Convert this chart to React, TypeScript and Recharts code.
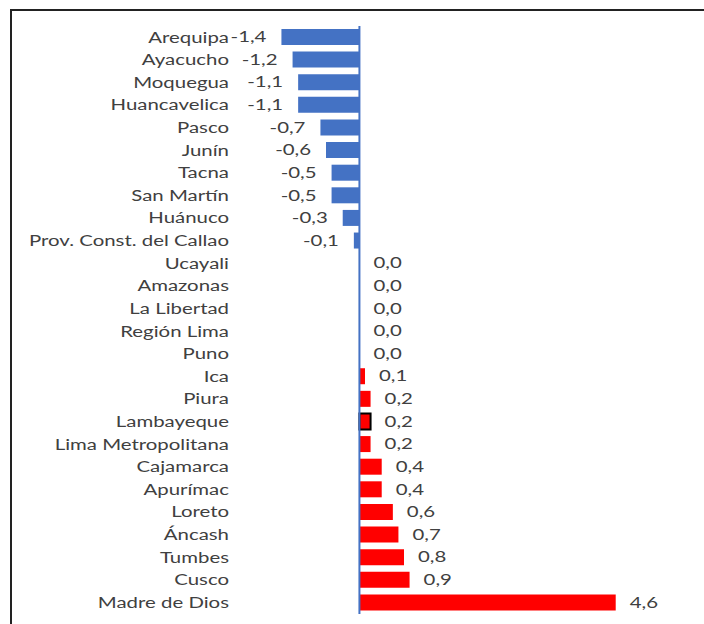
import { BarChart, Bar, XAxis, YAxis, Cell, LabelList, ReferenceLine } from 'recharts'

const regions = [
  'Arequipa', 'Ayacucho', 'Moquegua', 'Huancavelica', 'Pasco', 'Junín', 'Tacna',
  'San Martín', 'Huánuco', 'Prov. Const. del Callao', 'Ucayali', 'Amazonas',
  'La Libertad', 'Región Lima', 'Puno', 'Ica', 'Piura', 'Lambayeque',
  'Lima Metropolitana', 'Cajamarca', 'Apurímac', 'Loreto', 'Áncash', 'Tumbes',
  'Cusco', 'Madre de Dios',
]

const variation = [
  -1.4, -1.2, -1.1, -1.1, -0.7, -0.6, -0.5, -0.5, -0.3, -0.1, 0.0, 0.0, 0.0,
  0.0, 0.0, 0.1, 0.2, 0.2, 0.2, 0.4, 0.4, 0.6, 0.7, 0.8, 0.9, 4.6,
]

const highlighted = ['Lambayeque']

const NEG = '#4472C4'
const POS = '#FF0000'
const TEXT = '#404040'
const FONT = 'Lato, "Open Sans", sans-serif'
const SX = 1.36 // the source text is stretched horizontally

const data = regions.map((name, i) => ({ name, value: variation[i] }))

const StretchText = ({ x, y, anchor, children }: any) => (
  <text
    transform={`translate(${x},${y}) scale(${SX},1)`}
    dy="0.35em"
    textAnchor={anchor}
    fill={TEXT}
    fontSize={15}
    fontFamily={FONT}
  >
    {children}
  </text>
)

const RegionTick = (props: any) => (
  <StretchText x={props.x} y={props.y} anchor="end">
    {props.payload.value}
  </StretchText>
)

// excel-style "outside end" labels, comma decimals
const ValueLabel = (props: any) => {
  const x = Number(props.x)
  const w = Number(props.width)
  const cy = Number(props.y) + Number(props.height) / 2
  const v = Number(props.value)
  const txt = v.toFixed(1).replace('.', ',')
  if (v < 0) {
    const left = Math.min(x, x + w)
    return <StretchText x={left - 15} y={cy} anchor="end">{txt}</StretchText>
  }
  const right = v === 0 ? Math.min(x, x + w) : Math.max(x, x + w)
  return <StretchText x={right + 14} y={cy} anchor="start">{txt}</StretchText>
}

const barFill = (v: number) => (v < 0 ? NEG : v > 0 ? POS : 'none')

export default function App() {
  return (
    <div style={{ position: 'fixed', left: 0, top: 0, width: 704, height: 624, overflow: 'hidden', background: '#fff' }}>
      <div
        style={{
          position: 'absolute', left: 10, top: 9, width: 760, height: 700,
          borderTop: '2px solid #222', borderLeft: '2px solid #222',
        }}
      />
      <div style={{ position: 'absolute', left: 0, top: 0 }}>
        <BarChart
          width={704}
          height={624}
          data={data}
          layout="vertical"
          margin={{ top: 26, right: 66, bottom: 10, left: 8 }}
          barSize={16}
        >
          <XAxis type="number" domain={[-2, 5]} hide />
          <YAxis
            type="category"
            dataKey="name"
            width={240}
            axisLine={false}
            tickLine={false}
            tickMargin={13}
            interval={0}
            tick={RegionTick}
          />
          {/* minPointSize keeps the 0,0 rows so their labels get drawn */}
          <Bar dataKey="value" minPointSize={1} isAnimationActive={false}>
            {data.map((d) => (
              <Cell
                key={d.name}
                fill={barFill(d.value)}
                stroke={highlighted.includes(d.name) ? '#000' : 'none'}
                strokeWidth={highlighted.includes(d.name) ? 2 : 0}
              />
            ))}
            <LabelList dataKey="value" content={ValueLabel} />
          </Bar>
          <ReferenceLine x={0} stroke={NEG} strokeWidth={2} />
        </BarChart>
      </div>
    </div>
  )
}
